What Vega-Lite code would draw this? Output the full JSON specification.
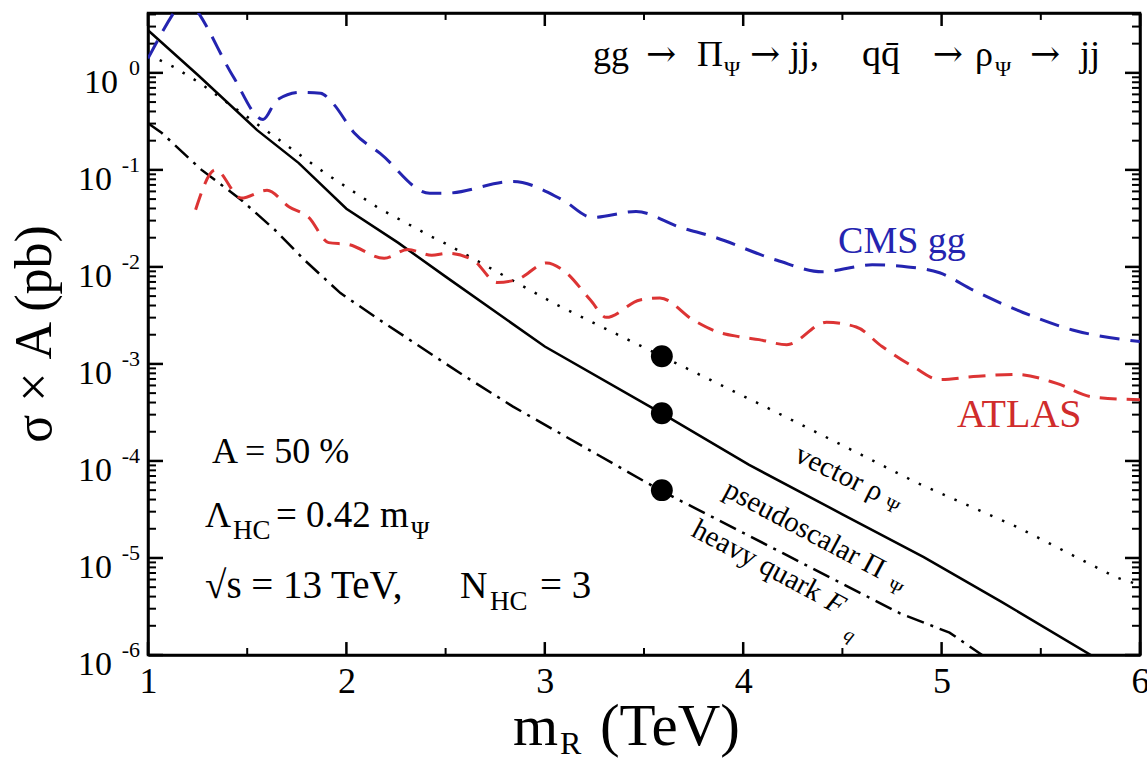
{
  "$schema": "https://vega.github.io/schema/vega-lite/v6.json",
  "width": 992,
  "height": 642,
  "autosize": {"type": "none"},
  "padding": {"left": 148, "top": 13, "right": 7, "bottom": 106},
  "background": "white",
  "config": {
    "view": {"stroke": "black", "strokeWidth": 2.5},
    "font": "Liberation Serif",
    "text": {"font": "Liberation Serif", "color": "black"}
  },
  "datasets": {
    "solid": [
      {"x": 1.0, "y": 2.75}, {"x": 1.25, "y": 0.955}, {"x": 1.55, "y": 0.257}, {"x": 1.76, "y": 0.1175},
      {"x": 2.0, "y": 0.0398}, {"x": 2.26, "y": 0.0178}, {"x": 2.5, "y": 0.00794}, {"x": 3.0, "y": 0.00151},
      {"x": 3.53, "y": 0.000363}, {"x": 3.59, "y": 0.000309}, {"x": 4.03, "y": 0.000091}, {"x": 4.5, "y": 0.0000282},
      {"x": 4.91, "y": 0.0000102}, {"x": 5.3, "y": 0.00000355}, {"x": 5.77, "y": 0.00000095}
    ],
    "dotted": [
      {"x": 1.0, "y": 1.55}, {"x": 1.13, "y": 1.15}, {"x": 1.26, "y": 0.79}, {"x": 1.64, "y": 0.219},
      {"x": 1.89, "y": 0.0933}, {"x": 2.16, "y": 0.0407}, {"x": 2.43, "y": 0.0204}, {"x": 2.51, "y": 0.017},
      {"x": 3.06, "y": 0.00407}, {"x": 3.59, "y": 0.0012}, {"x": 4.11, "y": 0.000363}, {"x": 4.5, "y": 0.000145},
      {"x": 4.88, "y": 0.0000589}, {"x": 5.38, "y": 0.0000209}, {"x": 5.88, "y": 0.0000063}, {"x": 6.0, "y": 0.00000525}
    ],
    "dashdot": [
      {"x": 1.0, "y": 0.302}, {"x": 1.07, "y": 0.24}, {"x": 1.27, "y": 0.1}, {"x": 1.47, "y": 0.049},
      {"x": 1.64, "y": 0.024}, {"x": 1.79, "y": 0.0117}, {"x": 1.97, "y": 0.00537}, {"x": 2.17, "y": 0.00282},
      {"x": 2.57, "y": 0.00081}, {"x": 2.84, "y": 0.000363}, {"x": 3.58, "y": 0.00005}, {"x": 4.2, "y": 0.0000112},
      {"x": 4.79, "y": 0.00000269}, {"x": 5.04, "y": 0.0000017}, {"x": 5.22, "y": 0.00000095}
    ],
    "cms": [
      {"x": 1.0, "y": 1.41}, {"x": 1.13, "y": 4.17}, {"x": 1.19, "y": 6.31}, {"x": 1.26, "y": 3.98},
      {"x": 1.43, "y": 0.912}, {"x": 1.58, "y": 0.331}, {"x": 1.65, "y": 0.525}, {"x": 1.77, "y": 0.631},
      {"x": 1.87, "y": 0.617}, {"x": 1.93, "y": 0.49}, {"x": 2.04, "y": 0.24}, {"x": 2.17, "y": 0.148},
      {"x": 2.42, "y": 0.0575}, {"x": 2.5, "y": 0.0575}, {"x": 2.84, "y": 0.0759}, {"x": 3.09, "y": 0.049},
      {"x": 3.24, "y": 0.0324}, {"x": 3.46, "y": 0.0372}, {"x": 3.68, "y": 0.0257}, {"x": 3.85, "y": 0.0204},
      {"x": 4.17, "y": 0.0117}, {"x": 4.4, "y": 0.00891}, {"x": 4.65, "y": 0.0105}, {"x": 4.83, "y": 0.01},
      {"x": 4.99, "y": 0.0087}, {"x": 5.16, "y": 0.00575}, {"x": 5.41, "y": 0.00339}, {"x": 5.66, "y": 0.00224},
      {"x": 6.0, "y": 0.0017}
    ],
    "atlas": [
      {"x": 1.24, "y": 0.0389}, {"x": 1.34, "y": 0.1}, {"x": 1.47, "y": 0.0513}, {"x": 1.6, "y": 0.0617},
      {"x": 1.71, "y": 0.0417}, {"x": 1.81, "y": 0.0324}, {"x": 1.91, "y": 0.0178}, {"x": 2.01, "y": 0.017},
      {"x": 2.19, "y": 0.0123}, {"x": 2.31, "y": 0.0151}, {"x": 2.43, "y": 0.0132}, {"x": 2.51, "y": 0.0138},
      {"x": 2.64, "y": 0.0117}, {"x": 2.76, "y": 0.00692}, {"x": 2.86, "y": 0.00741}, {"x": 3.01, "y": 0.011},
      {"x": 3.09, "y": 0.00933}, {"x": 3.23, "y": 0.00457}, {"x": 3.31, "y": 0.00302}, {"x": 3.48, "y": 0.00457},
      {"x": 3.58, "y": 0.00479}, {"x": 3.75, "y": 0.00282}, {"x": 3.87, "y": 0.00214}, {"x": 3.98, "y": 0.00191},
      {"x": 4.08, "y": 0.00178}, {"x": 4.22, "y": 0.00158}, {"x": 4.42, "y": 0.00269}, {"x": 4.57, "y": 0.0024},
      {"x": 4.7, "y": 0.00151}, {"x": 4.86, "y": 0.00093}, {"x": 4.99, "y": 0.00069}, {"x": 5.16, "y": 0.00074},
      {"x": 5.38, "y": 0.00078}, {"x": 5.58, "y": 0.00063}, {"x": 5.76, "y": 0.000457}, {"x": 6.0, "y": 0.000427}
    ],
    "dots": [
      {"x": 3.59, "y": 0.0012}, {"x": 3.59, "y": 0.00031}, {"x": 3.59, "y": 0.00005}
    ],
    "yt": [
      {"y": 1, "e": "0"}, {"y": 0.1, "e": "-1"}, {"y": 0.01, "e": "-2"}, {"y": 0.001, "e": "-3"},
      {"y": 0.0001, "e": "-4"}, {"y": 0.00001, "e": "-5"}, {"y": 0.000001, "e": "-6"}
    ],
    "yminor": [
      {"y": 2e-6}, {"y": 3e-6}, {"y": 4e-6}, {"y": 5e-6}, {"y": 6e-6}, {"y": 7e-6}, {"y": 8e-6}, {"y": 9e-6},
      {"y": 2e-5}, {"y": 3e-5}, {"y": 4e-5}, {"y": 5e-5}, {"y": 6e-5}, {"y": 7e-5}, {"y": 8e-5}, {"y": 9e-5},
      {"y": 2e-4}, {"y": 3e-4}, {"y": 4e-4}, {"y": 5e-4}, {"y": 6e-4}, {"y": 7e-4}, {"y": 8e-4}, {"y": 9e-4},
      {"y": 2e-3}, {"y": 3e-3}, {"y": 4e-3}, {"y": 5e-3}, {"y": 6e-3}, {"y": 7e-3}, {"y": 8e-3}, {"y": 9e-3},
      {"y": 0.02}, {"y": 0.03}, {"y": 0.04}, {"y": 0.05}, {"y": 0.06}, {"y": 0.07}, {"y": 0.08}, {"y": 0.09},
      {"y": 0.2}, {"y": 0.3}, {"y": 0.4}, {"y": 0.5}, {"y": 0.6}, {"y": 0.7}, {"y": 0.8}, {"y": 0.9},
      {"y": 2}, {"y": 3}, {"y": 4}
    ],
    "xmajor": [{"x": 1}, {"x": 2}, {"x": 3}, {"x": 4}, {"x": 5}, {"x": 6}],
    "xminor": [{"x": 1.5}, {"x": 2.5}, {"x": 3.5}, {"x": 4.5}, {"x": 5.5}],
    "one": [{}]
  },
  "layer": [
    {
      "data": {"name": "solid"},
      "mark": {"type": "line", "color": "black", "strokeWidth": 2.5, "clip": true},
      "encoding": {
        "x": {
          "field": "x", "type": "quantitative",
          "scale": {"domain": [1, 6], "nice": false, "zero": false},
          "axis": {
            "orient": "bottom", "title": null, "grid": false, "ticks": false,
            "values": [1, 2, 3, 4, 5, 6], "format": "d",
            "domainColor": "black", "domainWidth": 2.5,
            "labelFont": "Liberation Serif", "labelFontSize": 36, "labelColor": "black",
            "labelPadding": 9, "labelBaseline": "top", "labelFlush": false, "labelOverlap": false, "labelBound": false
          }
        },
        "y": {
          "field": "y", "type": "quantitative",
          "scale": {"type": "log", "domain": [0.000001, 4.14], "nice": false},
          "axis": {
            "orient": "left", "title": null, "grid": false, "labels": false, "ticks": false,
            "domainColor": "black", "domainWidth": 2.5
          }
        }
      }
    },
    {
      "data": {"name": "dotted"},
      "mark": {"type": "line", "color": "black", "strokeWidth": 2.5, "strokeDash": [2.5, 10.5], "clip": true},
      "encoding": {
        "x": {
          "field": "x", "type": "quantitative",
          "axis": {"orient": "top", "title": null, "grid": false, "labels": false, "ticks": false, "domainColor": "black", "domainWidth": 2.5}
        },
        "y": {
          "field": "y", "type": "quantitative",
          "axis": {"orient": "right", "title": null, "grid": false, "labels": false, "ticks": false, "domainColor": "black", "domainWidth": 2.5}
        }
      }
    },
    {
      "data": {"name": "yminor"},
      "mark": {"type": "rule", "color": "black", "strokeWidth": 2},
      "encoding": {
        "x": {"datum": 1, "type": "quantitative", "axis": null},
        "x2": {"datum": 1.0403},
        "y": {"field": "y", "type": "quantitative", "axis": null}
      }
    },
    {
      "data": {"name": "yminor"},
      "mark": {"type": "rule", "color": "black", "strokeWidth": 2},
      "encoding": {
        "x": {"datum": 5.9597, "type": "quantitative", "axis": null},
        "x2": {"datum": 6},
        "y": {"field": "y", "type": "quantitative", "axis": null}
      }
    },
    {
      "data": {"name": "yt"},
      "mark": {"type": "rule", "color": "black", "strokeWidth": 2.5},
      "encoding": {
        "x": {"datum": 1, "type": "quantitative", "axis": null},
        "x2": {"datum": 1.0756},
        "y": {"field": "y", "type": "quantitative", "axis": null}
      }
    },
    {
      "data": {"name": "yt"},
      "mark": {"type": "rule", "color": "black", "strokeWidth": 2.5},
      "encoding": {
        "x": {"datum": 5.9244, "type": "quantitative", "axis": null},
        "x2": {"datum": 6},
        "y": {"field": "y", "type": "quantitative", "axis": null}
      }
    },
    {
      "data": {"name": "xminor"},
      "mark": {"type": "rule", "color": "black", "strokeWidth": 2},
      "encoding": {
        "x": {"field": "x", "type": "quantitative", "axis": null},
        "y": {"datum": 0.000001, "type": "quantitative", "axis": null},
        "y2": {"datum": 0.00000118}
      }
    },
    {
      "data": {"name": "xminor"},
      "mark": {"type": "rule", "color": "black", "strokeWidth": 2},
      "encoding": {
        "x": {"field": "x", "type": "quantitative", "axis": null},
        "y": {"datum": 3.51, "type": "quantitative", "axis": null},
        "y2": {"datum": 4.14}
      }
    },
    {
      "data": {"name": "xmajor"},
      "mark": {"type": "rule", "color": "black", "strokeWidth": 2.5},
      "encoding": {
        "x": {"field": "x", "type": "quantitative", "axis": null},
        "y": {"datum": 0.000001, "type": "quantitative", "axis": null},
        "y2": {"datum": 0.00000136}
      }
    },
    {
      "data": {"name": "xmajor"},
      "mark": {"type": "rule", "color": "black", "strokeWidth": 2.5},
      "encoding": {
        "x": {"field": "x", "type": "quantitative", "axis": null},
        "y": {"datum": 3.04, "type": "quantitative", "axis": null},
        "y2": {"datum": 4.14}
      }
    },
    {
      "data": {"name": "dashdot"},
      "mark": {"type": "line", "color": "black", "strokeWidth": 2.5, "strokeDash": [18, 7, 3, 7], "clip": true},
      "encoding": {
        "x": {"field": "x", "type": "quantitative", "axis": null},
        "y": {"field": "y", "type": "quantitative", "axis": null}
      }
    },
    {
      "data": {"name": "cms"},
      "mark": {"type": "line", "color": "#2424b0", "strokeWidth": 3, "strokeDash": [20, 11], "interpolate": "monotone", "clip": true},
      "encoding": {
        "x": {"field": "x", "type": "quantitative", "axis": null},
        "y": {"field": "y", "type": "quantitative", "axis": null}
      }
    },
    {
      "data": {"name": "atlas"},
      "mark": {"type": "line", "color": "#dc3434", "strokeWidth": 3, "strokeDash": [17, 10], "interpolate": "monotone", "clip": true},
      "encoding": {
        "x": {"field": "x", "type": "quantitative", "axis": null},
        "y": {"field": "y", "type": "quantitative", "axis": null}
      }
    },
    {
      "data": {"name": "dots"},
      "mark": {"type": "circle", "color": "black", "opacity": 1, "size": 480},
      "encoding": {
        "x": {"field": "x", "type": "quantitative", "axis": null},
        "y": {"field": "y", "type": "quantitative", "axis": null}
      }
    },
    {
      "data": {"name": "yt"},
      "mark": {"type": "text", "align": "right", "baseline": "alphabetic", "dx": -8, "dy": 2, "fontSize": 22},
      "encoding": {
        "x": {"datum": 1, "type": "quantitative", "axis": null},
        "y": {"field": "y", "type": "quantitative", "axis": null},
        "text": {"field": "e"}
      }
    },
    {
      "data": {"name": "yt"},
      "transform": [{"filter": "datum.e == '0'"}],
      "mark": {"type": "text", "text": "10", "align": "right", "baseline": "alphabetic", "dx": -30, "dy": 20, "fontSize": 34},
      "encoding": {
        "x": {"datum": 1, "type": "quantitative", "axis": null},
        "y": {"field": "y", "type": "quantitative", "axis": null}
      }
    },
    {
      "data": {"name": "yt"},
      "transform": [{"filter": "datum.e != '0'"}],
      "mark": {"type": "text", "text": "10", "align": "right", "baseline": "alphabetic", "dx": -36, "dy": 20, "fontSize": 34},
      "encoding": {
        "x": {"datum": 1, "type": "quantitative", "axis": null},
        "y": {"field": "y", "type": "quantitative", "axis": null}
      }
    },
    {
      "data": {"name": "one"},
      "mark": {"type": "text", "text": "σ × A (pb)", "angle": 270, "align": "center", "baseline": "middle", "dy": -113, "fontSize": 52},
      "encoding": {
        "x": {"datum": 1, "type": "quantitative", "axis": null},
        "y": {"datum": 0.00204, "type": "quantitative", "axis": null}
      }
    },
    {
      "data": {"name": "one"},
      "mark": {"type": "text", "text": "m", "align": "left", "baseline": "alphabetic", "dy": 90, "fontSize": 58},
      "encoding": {
        "x": {"datum": 2.84, "type": "quantitative", "axis": null},
        "y": {"datum": 0.000001, "type": "quantitative", "axis": null}
      }
    },
    {
      "data": {"name": "one"},
      "mark": {"type": "text", "text": "R", "align": "left", "baseline": "alphabetic", "dy": 99, "fontSize": 32},
      "encoding": {
        "x": {"datum": 3.076, "type": "quantitative", "axis": null},
        "y": {"datum": 0.000001, "type": "quantitative", "axis": null}
      }
    },
    {
      "data": {"name": "one"},
      "mark": {"type": "text", "text": "(TeV)", "align": "left", "baseline": "alphabetic", "dy": 90, "fontSize": 59},
      "encoding": {
        "x": {"datum": 3.278, "type": "quantitative", "axis": null},
        "y": {"datum": 0.000001, "type": "quantitative", "axis": null}
      }
    },
    {
      "data": {"name": "one"},
      "mark": {"type": "text", "text": "gg", "align": "left", "baseline": "alphabetic", "fontSize": 36},
      "encoding": {
        "x": {"datum": 3.243, "type": "quantitative", "axis": null},
        "y": {"datum": 1.175, "type": "quantitative", "axis": null}
      }
    },
    {
      "data": {"name": "one"},
      "mark": {"type": "text", "text": "→", "align": "center", "baseline": "alphabetic", "fontSize": 36, "font": "DejaVu Serif"},
      "encoding": {
        "x": {"datum": 3.586, "type": "quantitative", "axis": null},
        "y": {"datum": 1.175, "type": "quantitative", "axis": null}
      }
    },
    {
      "data": {"name": "one"},
      "mark": {"type": "text", "text": "Π", "align": "left", "baseline": "alphabetic", "fontSize": 36},
      "encoding": {
        "x": {"datum": 3.767, "type": "quantitative", "axis": null},
        "y": {"datum": 1.175, "type": "quantitative", "axis": null}
      }
    },
    {
      "data": {"name": "one"},
      "mark": {"type": "text", "text": "Ψ", "align": "left", "baseline": "alphabetic", "dy": 10, "fontSize": 22},
      "encoding": {
        "x": {"datum": 3.903, "type": "quantitative", "axis": null},
        "y": {"datum": 1.175, "type": "quantitative", "axis": null}
      }
    },
    {
      "data": {"name": "one"},
      "mark": {"type": "text", "text": "→", "align": "center", "baseline": "alphabetic", "fontSize": 36, "font": "DejaVu Serif"},
      "encoding": {
        "x": {"datum": 4.11, "type": "quantitative", "axis": null},
        "y": {"datum": 1.175, "type": "quantitative", "axis": null}
      }
    },
    {
      "data": {"name": "one"},
      "mark": {"type": "text", "text": "jj,", "align": "left", "baseline": "alphabetic", "fontSize": 36},
      "encoding": {
        "x": {"datum": 4.236, "type": "quantitative", "axis": null},
        "y": {"datum": 1.175, "type": "quantitative", "axis": null}
      }
    },
    {
      "data": {"name": "one"},
      "mark": {"type": "text", "text": "qq̄", "align": "left", "baseline": "alphabetic", "fontSize": 38},
      "encoding": {
        "x": {"datum": 4.599, "type": "quantitative", "axis": null},
        "y": {"datum": 1.175, "type": "quantitative", "axis": null}
      }
    },
    {
      "data": {"name": "one"},
      "mark": {"type": "text", "text": "→", "align": "center", "baseline": "alphabetic", "fontSize": 36, "font": "DejaVu Serif"},
      "encoding": {
        "x": {"datum": 5.032, "type": "quantitative", "axis": null},
        "y": {"datum": 1.175, "type": "quantitative", "axis": null}
      }
    },
    {
      "data": {"name": "one"},
      "mark": {"type": "text", "text": "ρ", "align": "left", "baseline": "alphabetic", "fontSize": 36},
      "encoding": {
        "x": {"datum": 5.168, "type": "quantitative", "axis": null},
        "y": {"datum": 1.175, "type": "quantitative", "axis": null}
      }
    },
    {
      "data": {"name": "one"},
      "mark": {"type": "text", "text": "Ψ", "align": "left", "baseline": "alphabetic", "dy": 10, "fontSize": 22},
      "encoding": {
        "x": {"datum": 5.269, "type": "quantitative", "axis": null},
        "y": {"datum": 1.175, "type": "quantitative", "axis": null}
      }
    },
    {
      "data": {"name": "one"},
      "mark": {"type": "text", "text": "→", "align": "center", "baseline": "alphabetic", "fontSize": 36, "font": "DejaVu Serif"},
      "encoding": {
        "x": {"datum": 5.521, "type": "quantitative", "axis": null},
        "y": {"datum": 1.175, "type": "quantitative", "axis": null}
      }
    },
    {
      "data": {"name": "one"},
      "mark": {"type": "text", "text": "jj", "align": "left", "baseline": "alphabetic", "fontSize": 36},
      "encoding": {
        "x": {"datum": 5.698, "type": "quantitative", "axis": null},
        "y": {"datum": 1.175, "type": "quantitative", "axis": null}
      }
    },
    {
      "data": {"name": "one"},
      "mark": {"type": "text", "text": "CMS gg", "align": "left", "baseline": "alphabetic", "fontSize": 38, "color": "#2424b0"},
      "encoding": {
        "x": {"datum": 4.478, "type": "quantitative", "axis": null},
        "y": {"datum": 0.014, "type": "quantitative", "axis": null}
      }
    },
    {
      "data": {"name": "one"},
      "mark": {"type": "text", "text": "ATLAS", "align": "left", "baseline": "alphabetic", "fontSize": 40, "color": "#d02c2c"},
      "encoding": {
        "x": {"datum": 5.078, "type": "quantitative", "axis": null},
        "y": {"datum": 0.000222, "type": "quantitative", "axis": null}
      }
    },
    {
      "data": {"name": "one"},
      "mark": {"type": "text", "text": "A = 50 %", "align": "left", "baseline": "alphabetic", "fontSize": 36},
      "encoding": {
        "x": {"datum": 1.3226, "type": "quantitative", "axis": null},
        "y": {"datum": 0.0000945, "type": "quantitative", "axis": null}
      }
    },
    {
      "data": {"name": "one"},
      "mark": {"type": "text", "text": "Λ", "align": "left", "baseline": "alphabetic", "fontSize": 36},
      "encoding": {
        "x": {"datum": 1.2873, "type": "quantitative", "axis": null},
        "y": {"datum": 0.00002074, "type": "quantitative", "axis": null}
      }
    },
    {
      "data": {"name": "one"},
      "mark": {"type": "text", "text": "HC", "align": "left", "baseline": "alphabetic", "dy": 12, "fontSize": 27},
      "encoding": {
        "x": {"datum": 1.4284, "type": "quantitative", "axis": null},
        "y": {"datum": 0.00002074, "type": "quantitative", "axis": null}
      }
    },
    {
      "data": {"name": "one"},
      "mark": {"type": "text", "text": "= 0.42 m", "align": "left", "baseline": "alphabetic", "fontSize": 37},
      "encoding": {
        "x": {"datum": 1.6452, "type": "quantitative", "axis": null},
        "y": {"datum": 0.00002074, "type": "quantitative", "axis": null}
      }
    },
    {
      "data": {"name": "one"},
      "mark": {"type": "text", "text": "Ψ", "align": "left", "baseline": "alphabetic", "dy": 12, "fontSize": 25},
      "encoding": {
        "x": {"datum": 2.3256, "type": "quantitative", "axis": null},
        "y": {"datum": 0.00002074, "type": "quantitative", "axis": null}
      }
    },
    {
      "data": {"name": "one"},
      "mark": {"type": "text", "text": "√s = 13 TeV,", "align": "left", "baseline": "alphabetic", "fontSize": 39},
      "encoding": {
        "x": {"datum": 1.2873, "type": "quantitative", "axis": null},
        "y": {"datum": 0.00000386, "type": "quantitative", "axis": null}
      }
    },
    {
      "data": {"name": "one"},
      "mark": {"type": "text", "text": "N", "align": "left", "baseline": "alphabetic", "fontSize": 38},
      "encoding": {
        "x": {"datum": 2.573, "type": "quantitative", "axis": null},
        "y": {"datum": 0.00000386, "type": "quantitative", "axis": null}
      }
    },
    {
      "data": {"name": "one"},
      "mark": {"type": "text", "text": "HC", "align": "left", "baseline": "alphabetic", "dy": 12, "fontSize": 27},
      "encoding": {
        "x": {"datum": 2.724, "type": "quantitative", "axis": null},
        "y": {"datum": 0.00000386, "type": "quantitative", "axis": null}
      }
    },
    {
      "data": {"name": "one"},
      "mark": {"type": "text", "text": "= 3", "align": "left", "baseline": "alphabetic", "fontSize": 39},
      "encoding": {
        "x": {"datum": 2.976, "type": "quantitative", "axis": null},
        "y": {"datum": 0.00000386, "type": "quantitative", "axis": null}
      }
    },
    {
      "data": {"name": "one"},
      "mark": {"type": "text", "text": "vector ρ", "align": "left", "baseline": "alphabetic", "angle": 26, "fontSize": 29},
      "encoding": {
        "x": {"datum": 4.251, "type": "quantitative", "axis": null},
        "y": {"datum": 0.000101, "type": "quantitative", "axis": null}
      }
    },
    {
      "data": {"name": "one"},
      "mark": {"type": "text", "text": "Ψ", "align": "left", "baseline": "alphabetic", "angle": 26, "fontSize": 19},
      "encoding": {
        "x": {"datum": 4.705, "type": "quantitative", "axis": null},
        "y": {"datum": 0.0000325, "type": "quantitative", "axis": null}
      }
    },
    {
      "data": {"name": "one"},
      "mark": {"type": "text", "text": "pseudoscalar Π", "align": "left", "baseline": "alphabetic", "angle": 28, "fontSize": 29},
      "encoding": {
        "x": {"datum": 3.893, "type": "quantitative", "axis": null},
        "y": {"datum": 0.0000443, "type": "quantitative", "axis": null}
      }
    },
    {
      "data": {"name": "one"},
      "mark": {"type": "text", "text": "Ψ", "align": "left", "baseline": "alphabetic", "angle": 28, "fontSize": 19},
      "encoding": {
        "x": {"datum": 4.72, "type": "quantitative", "axis": null},
        "y": {"datum": 0.00000467, "type": "quantitative", "axis": null}
      }
    },
    {
      "data": {"name": "one"},
      "mark": {"type": "text", "text": "heavy quark", "align": "left", "baseline": "alphabetic", "angle": 28, "fontSize": 29},
      "encoding": {
        "x": {"datum": 3.732, "type": "quantitative", "axis": null},
        "y": {"datum": 0.0000172, "type": "quantitative", "axis": null}
      }
    },
    {
      "data": {"name": "one"},
      "mark": {"type": "text", "text": "F", "align": "left", "baseline": "alphabetic", "angle": 28, "fontSize": 29, "fontStyle": "italic"},
      "encoding": {
        "x": {"datum": 4.405, "type": "quantitative", "axis": null},
        "y": {"datum": 0.0000031, "type": "quantitative", "axis": null}
      }
    },
    {
      "data": {"name": "one"},
      "mark": {"type": "text", "text": "q", "align": "left", "baseline": "alphabetic", "angle": 28, "fontSize": 19, "fontStyle": "italic"},
      "encoding": {
        "x": {"datum": 4.5, "type": "quantitative", "axis": null},
        "y": {"datum": 0.0000015, "type": "quantitative", "axis": null}
      }
    }
  ],
  "resolve": {"axis": {"x": "independent", "y": "independent"}}
}
